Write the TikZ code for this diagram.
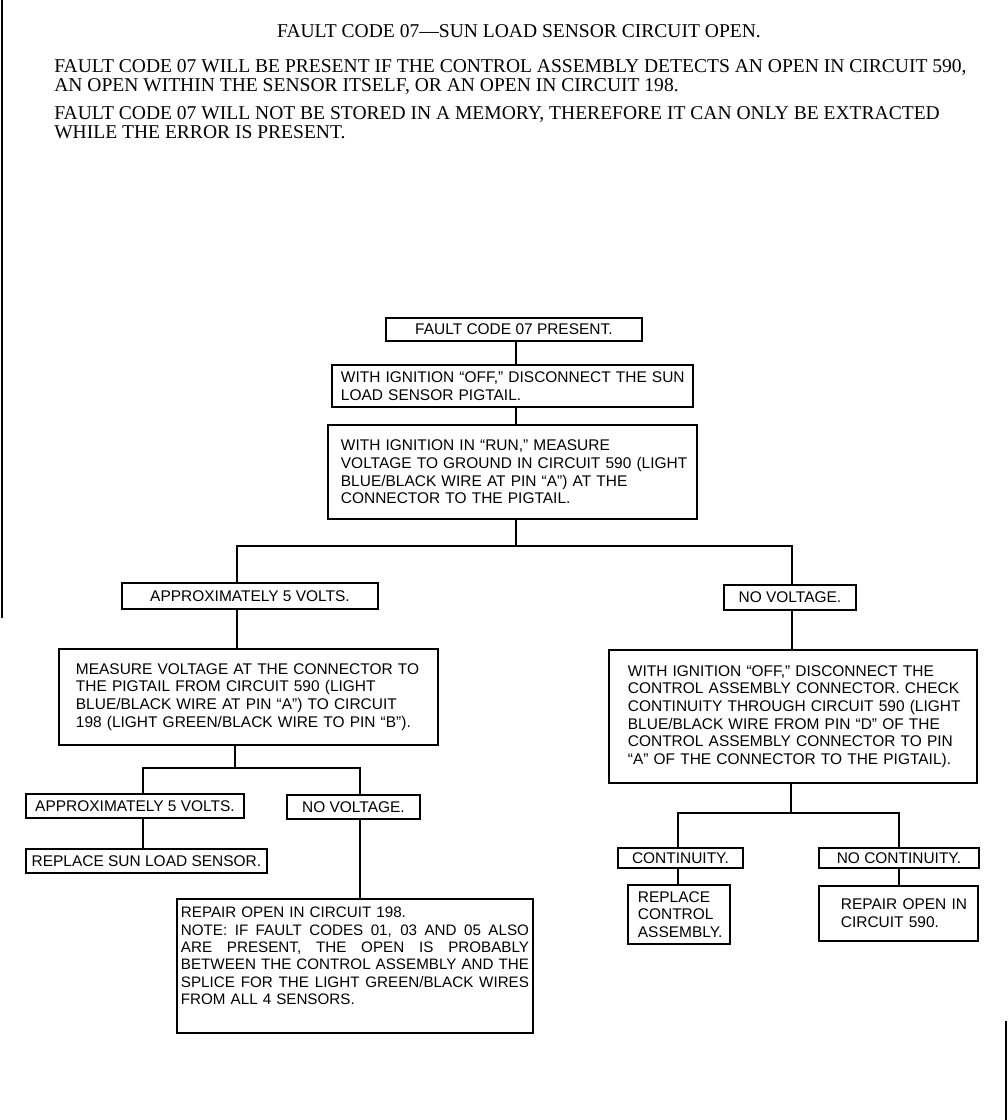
\documentclass[tikz,border=0pt]{standalone}
\usepackage{fontspec}
\setmainfont{Liberation Serif}
\newfontfamily\flowfont{Liberation Sans}

\tikzset{
  box/.style={draw, line width=1.3pt, inner sep=0pt, align=left,
    font=\flowfont\fontsize{11}{12.5}\selectfont,
    execute at begin node={\rightskip=0pt plus 1fil minus 80pt}},
  wire/.style={line width=1.3pt},
  prose/.style={inner sep=0pt, align=left, font=\fontsize{13.9}{13.5}\selectfont},
}
\newcommand{\fullrow}[1]{\makebox[8.7cm][s]{\spaceskip=0.25em plus 1fil minus 0.05em\relax #1}}

\begin{document}
\begin{tikzpicture}[x=0.025cm, y=-0.025cm]
\useasboundingbox (0,0) rectangle (1008,1120);

% Titolo e testo introduttivo
\node[prose, anchor=base] (title) at (519,37) {FAULT CODE 07—SUN LOAD SENSOR CIRCUIT OPEN.};
\node[prose, anchor=north west] (intro) at (54,59)
  {FAULT CODE 07 WILL BE PRESENT IF THE CONTROL ASSEMBLY DETECTS AN OPEN IN CIRCUIT 590,\\
   AN OPEN WITHIN THE SENSOR ITSELF, OR AN OPEN IN CIRCUIT 198.};
\node[prose, anchor=north west] (memo) at (54,106)
  {FAULT CODE 07 WILL NOT BE STORED IN A MEMORY, THEREFORE IT CAN ONLY BE EXTRACTED\\
   WHILE THE ERROR IS PRESENT.};

% Tronco principale
\node[box, anchor=north west, minimum width=6.4cm, minimum height=0.575cm] (fcp) at (385,317)
  {FAULT CODE 07 PRESENT.};
\node[box, anchor=north west, minimum width=9.025cm, minimum height=1.05cm, text width=8.575cm] (ignoff) at (331,364)
  {WITH IGNITION “OFF,” DISCONNECT THE SUN\\ LOAD SENSOR PIGTAIL.};
\node[box, anchor=north west, minimum width=9.225cm, minimum height=2.35cm, text width=8.575cm] (runmeas) at (327,424)
  {WITH IGNITION IN “RUN,” MEASURE\\ VOLTAGE TO GROUND IN CIRCUIT 590 (LIGHT\\
   BLUE/BLACK WIRE AT PIN “A”) AT THE\\ CONNECTOR TO THE PIGTAIL.};

% Ramo sinistro
\node[box, anchor=north west, minimum width=6.4cm, minimum height=0.65cm] (fiveA) at (121,582)
  {APPROXIMATELY 5 VOLTS.};
\node[box, anchor=north west, minimum width=9.475cm, minimum height=2.4cm, text width=8.625cm] (measpig) at (58,648)
  {MEASURE VOLTAGE AT THE CONNECTOR TO\\ THE PIGTAIL FROM CIRCUIT 590 (LIGHT\\
   BLUE/BLACK WIRE AT PIN “A”) TO CIRCUIT\\ 198 (LIGHT GREEN/BLACK WIRE TO PIN “B”).};
\node[box, anchor=north west, minimum width=5.45cm, minimum height=0.6cm] (fiveB) at (25,793)
  {APPROXIMATELY 5 VOLTS.};
\node[box, anchor=north west, minimum width=3.325cm, minimum height=0.6cm] (novB) at (286,794)
  {NO VOLTAGE.};
\node[box, anchor=north west, minimum width=6.025cm, minimum height=0.6cm] (replsensor) at (25,848)
  {REPLACE SUN LOAD SENSOR.};
\node[box, anchor=north west, minimum width=8.9cm, minimum height=3.35cm, text width=8.7cm,
      font=\flowfont\fontsize{10.8}{12.4}\selectfont] (repair198) at (176,898)
  {REPAIR OPEN IN CIRCUIT 198.\\
   \fullrow{NOTE: IF FAULT CODES 01, 03 AND 05 ALSO}\\
   \fullrow{ARE PRESENT, THE OPEN IS PROBABLY}\\
   \fullrow{BETWEEN THE CONTROL ASSEMBLY AND THE}\\
   \fullrow{SPLICE FOR THE LIGHT GREEN/BLACK WIRES}\\
   FROM ALL 4 SENSORS.\rule[-0.5cm]{0pt}{0pt}};

% Ramo destro
\node[box, anchor=north west, minimum width=3.3cm, minimum height=0.625cm] (novA) at (723,584)
  {NO VOLTAGE.};
\node[box, anchor=north west, minimum width=9.2cm, minimum height=3.325cm, text width=8.25cm] (ignoffctl) at (608,649)
  {WITH IGNITION “OFF,” DISCONNECT THE\\ CONTROL ASSEMBLY CONNECTOR. CHECK\\
   CONTINUITY THROUGH CIRCUIT 590 (LIGHT\\ BLUE/BLACK WIRE FROM PIN “D” OF THE\\
   CONTROL ASSEMBLY CONNECTOR TO PIN\\ “A” OF THE CONNECTOR TO THE PIGTAIL).};
\node[box, anchor=north west, minimum width=3.125cm, minimum height=0.5cm] (cont) at (617,847)
  {CONTINUITY.};
\node[box, anchor=north west, minimum width=4.0cm, minimum height=0.5cm] (nocont) at (818,847)
  {NO CONTINUITY.};
\node[box, anchor=north west, minimum width=2.55cm, minimum height=1.475cm, text width=2.05cm] (replctl) at (627,884)
  {REPLACE\\ CONTROL\\ ASSEMBLY.};
\node[box, anchor=north west, minimum width=3.975cm, minimum height=1.375cm, text width=2.875cm] (repair590) at (818,885)
  {REPAIR OPEN IN\\ CIRCUIT 590.};

% Punti di diramazione
\coordinate (splitA) at (516,546);
\coordinate (legA1) at (237,546);
\coordinate (legA2) at (792,546);
\coordinate (splitB) at (235,768);
\coordinate (legB1) at (143,768);
\coordinate (legB2) at (360,768);
\coordinate (splitC) at (791,813);
\coordinate (legC1) at (678,813);
\coordinate (legC2) at (899,813);

% Linee di connessione
\draw[wire] (fcp.south -| splitA) -- (ignoff.north -| splitA);
\draw[wire] (ignoff.south -| splitA) -- (runmeas.north -| splitA);
\draw[wire] (runmeas.south -| splitA) -- (splitA);
\draw[wire] (fiveA.north -| legA1) -- (legA1) -- (legA2) -- (novA.north -| legA2);
\draw[wire] (fiveA.south -| legA1) -- (measpig.north -| legA1);
\draw[wire] (novA.south -| legA2) -- (ignoffctl.north -| legA2);

\draw[wire] (measpig.south -| splitB) -- (splitB);
\draw[wire] (fiveB.north -| legB1) -- (legB1) -- (legB2) -- (novB.north -| legB2);
\draw[wire] (fiveB.south -| legB1) -- (replsensor.north -| legB1);
\draw[wire] (novB.south -| legB2) -- (repair198.north -| legB2);

\draw[wire] (ignoffctl.south -| splitC) -- (splitC);
\draw[wire] (cont.north -| legC1) -- (legC1) -- (legC2) -- (nocont.north -| legC2);
\draw[wire] (cont.south -| legC1) -- (replctl.north -| legC1);
\draw[wire] (nocont.south -| legC2) -- (repair590.north -| legC2);

% Bordi della pagina
\draw[line width=1pt] (2,0) -- (2,618);
\draw[line width=1pt] (1006,1021) -- (1006,1120);
\end{tikzpicture}
\end{document}
